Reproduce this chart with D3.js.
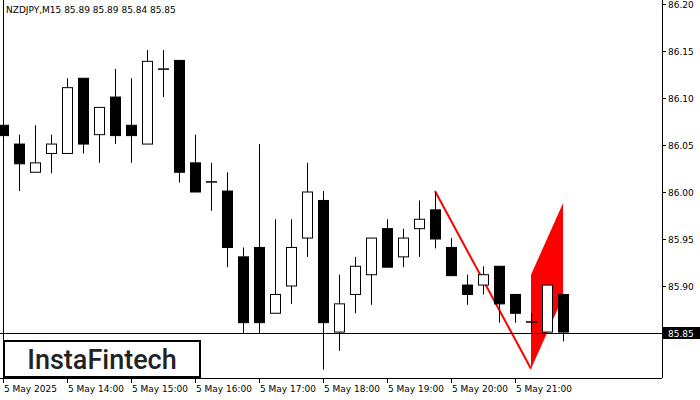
<!DOCTYPE html>
<html><head><meta charset="utf-8">
<script src="https://cdn.jsdelivr.net/npm/d3@7"></script>
<style>body{margin:0;background:#fff}svg{font-family:"DejaVu Sans",sans-serif}</style>
</head><body><div id="chart"></div>
<script>
var w = 700, h = 400;
// OHLC, one per 15 minutes from 13:00
var opens  = [86.071,86.051,86.021,86.041,86.041,86.121,86.061,86.101,86.071,86.051,86.131,86.140,86.031,86.011,86.001,85.931,85.941,85.871,85.900,85.951,85.991,85.851,85.891,85.912,85.961,85.931,85.961,85.981,85.941,85.901,85.901,85.921,85.891,85.862,85.851,85.891];
var highs  = [86.071,86.061,86.071,86.061,86.121,86.121,86.090,86.131,86.121,86.151,86.151,86.140,86.061,86.031,86.021,85.941,86.051,85.971,85.971,86.031,86.001,85.912,85.931,85.951,85.971,85.961,85.991,86.000,85.951,85.912,85.921,85.921,85.891,85.871,85.901,85.891];
var lows   = [86.021,86.001,86.021,86.020,86.041,86.041,86.031,86.051,86.031,86.051,86.101,86.010,86.000,85.980,85.920,85.850,85.850,85.871,85.881,85.931,85.811,85.831,85.871,85.880,85.920,85.920,85.931,85.940,85.911,85.880,85.891,85.861,85.861,85.851,85.851,85.841];
var closes = [86.060,86.030,86.031,86.051,86.111,86.051,86.090,86.060,86.060,86.139,86.131,86.021,86.000,86.011,85.941,85.861,85.861,85.891,85.941,86.000,85.861,85.881,85.921,85.951,85.920,85.951,85.971,85.950,85.911,85.891,85.912,85.881,85.871,85.862,85.901,85.851];
var priceTicks = [86.20,86.15,86.10,86.05,86.00,85.95,85.90];
var timeTicks = [[0,"5 May 2025"],[4,"5 May 14:00"],[8,"5 May 15:00"],[12,"5 May 16:00"],[16,"5 May 17:00"],[20,"5 May 18:00"],[24,"5 May 19:00"],[28,"5 May 20:00"],[32,"5 May 21:00"]];
var lastPrice = 85.85;
// pattern: pole [index, price], flag corners
var pole = [[27,86.001],[33,85.812]];
var flag = [[33,85.912],[35,85.988],[35,85.888],[33,85.812]];

var x = d3.scaleLinear().domain([0,35]).range([3,563]);
var y = d3.scaleLinear().domain([85.80,86.20]).range([380,4]);

var svg = d3.select("#chart").append("svg").attr("width",w).attr("height",h);
svg.append("clipPath").attr("id","c").append("rect").attr("width",662).attr("height",378);
var g = svg.append("g").attr("clip-path","url(#c)");

// flag
g.append("polygon").attr("points", flag.map(function(d){return x(d[0])+","+y(d[1]);}).join(" ")).attr("fill","#ff0000");
g.append("line").attr("x1",x(pole[0][0])).attr("y1",y(pole[0][1])).attr("x2",x(pole[1][0])).attr("y2",y(pole[1][1]))
  .attr("stroke","#ff0000").attr("stroke-width",2);

// last price line
g.append("line").attr("x1",0).attr("x2",662).attr("y1",Math.round(y(lastPrice))+0.5).attr("y2",Math.round(y(lastPrice))+0.5).attr("stroke","#000");

// candles
var c = g.selectAll("g.cd").data(opens).enter().append("g");
c.append("line").attr("x1",function(d,i){return Math.round(x(i))+0.5;}).attr("x2",function(d,i){return Math.round(x(i))+0.5;})
  .attr("y1",function(d,i){return y(highs[i]);}).attr("y2",function(d,i){return y(lows[i]);}).attr("stroke","#000");
c.append("rect")
  .attr("x",function(d,i){return Math.round(x(i))-4.5;})
  .attr("width",10)
  .attr("y",function(d,i){return y(Math.max(d,closes[i]));})
  .attr("height",function(d,i){return Math.max(0.5,Math.abs(y(d)-y(closes[i])));})
  .attr("fill",function(d,i){return closes[i]<d?"#000":"#fff";})
  .attr("stroke","#000");

// frame
svg.append("line").attr("x1",662.5).attr("x2",662.5).attr("y1",0).attr("y2",378).attr("stroke","#000");
svg.append("line").attr("x1",0).attr("x2",662).attr("y1",378.5).attr("y2",378.5).attr("stroke","#000");
svg.append("line").attr("x1",3.5).attr("x2",3.5).attr("y1",0).attr("y2",378).attr("stroke","#000");

// price axis
var pa = svg.selectAll("g.pt").data(priceTicks).enter().append("g");
pa.append("line").attr("x1",662).attr("x2",666).attr("y1",function(d){return Math.round(y(d))+0.5;}).attr("y2",function(d){return Math.round(y(d))+0.5;}).attr("stroke","#000");
pa.append("text").attr("x",668).attr("y",function(d){return y(d)+4;}).attr("font-size",9).text(function(d){return d.toFixed(2);});
svg.append("rect").attr("x",663).attr("y",y(lastPrice)-6).attr("width",37).attr("height",12).attr("fill","#000");
svg.append("text").attr("x",668).attr("y",y(lastPrice)+4).attr("font-size",9).attr("fill","#fff").text(lastPrice.toFixed(2));

// time axis
var ta = svg.selectAll("g.tt").data(timeTicks).enter().append("g");
ta.append("line").attr("x1",function(d){return Math.round(x(d[0]))+0.5;}).attr("x2",function(d){return Math.round(x(d[0]))+0.5;}).attr("y1",378).attr("y2",383).attr("stroke","#000");
ta.append("text").attr("x",function(d){return x(d[0])+1;}).attr("y",392).attr("font-size",9).text(function(d){return d[1];});

// title
svg.append("text").attr("x",6).attr("y",13).attr("font-size",9).text("NZDJPY,M15  85.89 85.89 85.84 85.85");

// logo
svg.append("rect").attr("x",4).attr("y",341).attr("width",196).attr("height",36).attr("fill","#fff").attr("stroke","#000").attr("stroke-width",2);
svg.append("text").attr("x",102).attr("y",369).attr("text-anchor","middle").attr("font-family","Roboto,sans-serif").attr("font-weight",500).attr("font-size",27).attr("fill","#222").text("InstaFintech");
</script>
</body></html>
